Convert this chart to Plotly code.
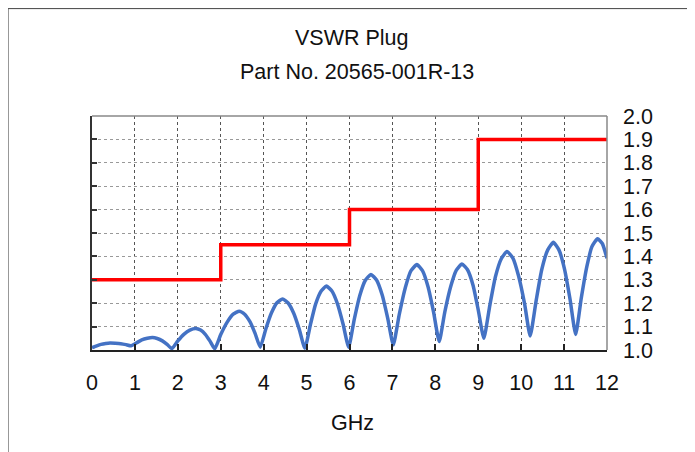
import plotly.graph_objects as go

freq_ghz = [0.00, 0.11, 0.21, 0.32, 0.42, 0.54, 0.67, 0.79, 0.91,
            1.04, 1.16, 1.29, 1.41, 1.52, 1.64, 1.75, 1.86,
            2.00, 2.14, 2.28, 2.42, 2.53, 2.64, 2.75, 2.86,
            3.00, 3.15, 3.29, 3.43, 3.55, 3.68, 3.80, 3.92,
            4.05, 4.18, 4.31, 4.44, 4.57, 4.70, 4.83, 4.96,
            5.09, 5.21, 5.34, 5.46, 5.59, 5.72, 5.85, 5.98,
            6.11, 6.24, 6.37, 6.50, 6.63, 6.76, 6.89, 7.02,
            7.16, 7.30, 7.43, 7.57, 7.70, 7.83, 7.96, 8.09,
            8.22, 8.36, 8.49, 8.62, 8.75, 8.88, 9.00, 9.13,
            9.27, 9.40, 9.54, 9.67, 9.81, 9.94, 10.08, 10.21,
            10.35, 10.48, 10.62, 10.75, 10.88, 11.01, 11.14, 11.27,
            11.40, 11.53, 11.65, 11.78, 11.89, 12.00]
vswr = [1.010, 1.018, 1.024, 1.028, 1.030, 1.029, 1.027, 1.023, 1.018,
        1.031, 1.043, 1.050, 1.053, 1.049, 1.039, 1.024, 1.006,
        1.039, 1.067, 1.085, 1.092, 1.085, 1.067, 1.038, 1.005,
        1.066, 1.119, 1.153, 1.166, 1.154, 1.121, 1.071, 1.012,
        1.090, 1.158, 1.202, 1.218, 1.201, 1.157, 1.088, 1.008,
        1.109, 1.196, 1.252, 1.273, 1.252, 1.197, 1.111, 1.012,
        1.130, 1.233, 1.298, 1.323, 1.299, 1.236, 1.136, 1.022,
        1.152, 1.266, 1.338, 1.365, 1.339, 1.270, 1.161, 1.036,
        1.162, 1.272, 1.341, 1.368, 1.343, 1.276, 1.171, 1.050,
        1.191, 1.313, 1.391, 1.421, 1.392, 1.316, 1.197, 1.060,
        1.212, 1.344, 1.428, 1.460, 1.428, 1.346, 1.216, 1.066,
        1.221, 1.356, 1.442, 1.475, 1.455, 1.392]

# Specification limit (red step)
limit_ghz = [0, 3, 6, 9, 12]
limit_vswr = [1.30, 1.45, 1.60, 1.90, 1.90]

x_ticks = list(range(0, 13))
y_ticks = [1.0, 1.1, 1.2, 1.3, 1.4, 1.5, 1.6, 1.7, 1.8, 1.9, 2.0]

FONT = "Liberation Sans, Arial, sans-serif"
FS = 21.5

fig = go.Figure()
fig.add_trace(go.Scatter(x=freq_ghz, y=vswr, mode="lines",
                         line=dict(color="#4472C4", width=3.5, shape="spline", smoothing=0.5),
                         showlegend=False, hoverinfo="skip"))
fig.add_trace(go.Scatter(x=limit_ghz, y=limit_vswr, mode="lines", yaxis="y2",
                         line=dict(color="#FF0000", width=3.5, shape="hv"),
                         showlegend=False, hoverinfo="skip"))

fig.update_layout(
    width=687, height=444,
    margin=dict(l=84, r=88, t=108, b=102, pad=0),
    paper_bgcolor="white", plot_bgcolor="white",
    font=dict(family=FONT, size=FS, color="#111"),
    xaxis=dict(range=[0, 12], tickvals=x_ticks, ticks="inside", ticklen=6, tickwidth=1.5,
               tickcolor="#222", showline=True, linecolor="#222", linewidth=2,
               showgrid=True, gridcolor="#555", griddash="dot", gridwidth=1,
               zeroline=False, ticklabelstandoff=12, tickfont=dict(size=FS)),
    yaxis=dict(range=[1, 2], tickvals=y_ticks, tickformat=".1f", side="right",
               showgrid=True, gridcolor="#999", griddash="dot", gridwidth=1,
               showline=False, ticks="", zeroline=False, ticklabelstandoff=15,
               tickfont=dict(size=FS)),
    yaxis2=dict(range=[1, 2], tickvals=y_ticks, overlaying="y", side="left",
                showticklabels=False, ticks="inside", ticklen=5, tickwidth=1.5,
                tickcolor="#333", showline=True, linecolor="#333", linewidth=2,
                showgrid=False, zeroline=False),
    shapes=[
        dict(type="line", xref="paper", yref="paper", x0=0, x1=1, y0=1, y1=1,
             line=dict(color="#888", width=1.5)),
        dict(type="line", xref="paper", yref="paper", x0=1, x1=1, y0=0, y1=1,
             line=dict(color="#888", width=1.5)),
        dict(type="rect", xref="paper", yref="paper", x0=-0.163, x1=1.25, y0=-0.6, y1=1.459,
             line=dict(color="#444", width=1)),
    ],
    annotations=[
        dict(text="VSWR Plug", xref="paper", yref="paper", x=0.504, y=1.3326,
             showarrow=False, xanchor="center", yanchor="middle", font=dict(size=FS)),
        dict(text="Part No. 20565-001R-13", xref="paper", yref="paper", x=0.5136, y=1.1876,
             showarrow=False, xanchor="center", yanchor="middle", font=dict(size=FS)),
        dict(text="GHz", xref="paper", yref="paper", x=0.506, y=-0.3134,
             showarrow=False, xanchor="center", yanchor="middle", font=dict(size=FS)),
    ],
)

fig.write_html("out.html")
